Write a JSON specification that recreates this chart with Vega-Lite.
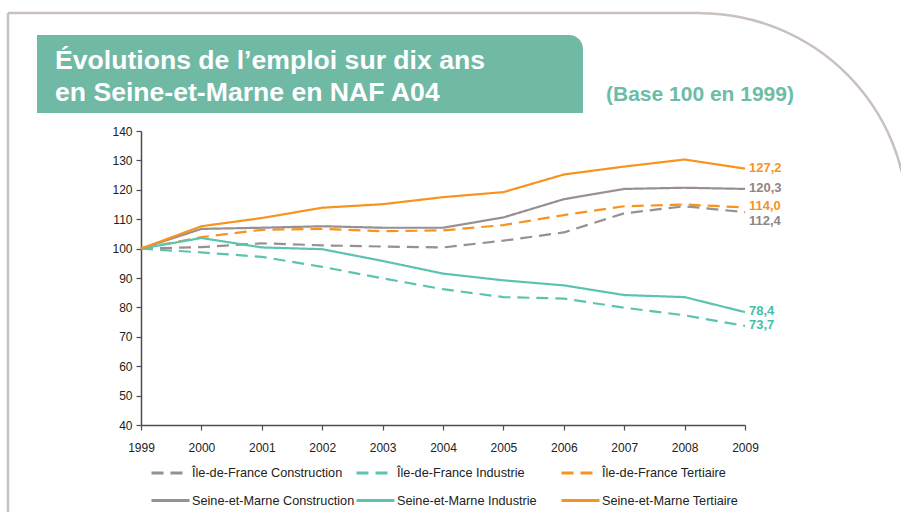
{
  "$schema": "https://vega.github.io/schema/vega-lite/v6.json",
  "autosize": "none",
  "width": 604,
  "height": 294,
  "padding": {"left": 141, "top": 131, "right": 156, "bottom": 87},
  "background": "white",
  "config": {
    "view": {"stroke": null},
    "font": "Liberation Sans",
    "locale": {"number": {"decimal": ",", "thousands": " ", "grouping": [3], "currency": ["", " €"]}},
    "legend": {
      "orient": "none", "legendX": 9, "legendY": 321, "direction": "horizontal",
      "columns": 3, "gridAlign": "all", "columnPadding": -9, "rowPadding": -26,
      "symbolType": "stroke", "symbolSize": 1444, "symbolStrokeWidth": 3,
      "labelFont": "Liberation Sans", "labelFontSize": 12.7, "labelColor": "#222222", "labelOffset": 1, "labelLimit": 300
    }
  },
  "resolve": {"axis": {"x": "independent", "y": "independent"}},
  "datasets": {
    "emploi": [
      {"serie": "Île-de-France Construction", "annee": 1999, "valeur": 100},
      {"serie": "Île-de-France Construction", "annee": 2000, "valeur": 100.5},
      {"serie": "Île-de-France Construction", "annee": 2001, "valeur": 101.8},
      {"serie": "Île-de-France Construction", "annee": 2002, "valeur": 101.1},
      {"serie": "Île-de-France Construction", "annee": 2003, "valeur": 100.7},
      {"serie": "Île-de-France Construction", "annee": 2004, "valeur": 100.4},
      {"serie": "Île-de-France Construction", "annee": 2005, "valeur": 102.7},
      {"serie": "Île-de-France Construction", "annee": 2006, "valeur": 105.5},
      {"serie": "Île-de-France Construction", "annee": 2007, "valeur": 112.0},
      {"serie": "Île-de-France Construction", "annee": 2008, "valeur": 114.4},
      {"serie": "Île-de-France Construction", "annee": 2009, "valeur": 112.4},
      {"serie": "Île-de-France Industrie", "annee": 1999, "valeur": 100},
      {"serie": "Île-de-France Industrie", "annee": 2000, "valeur": 98.7},
      {"serie": "Île-de-France Industrie", "annee": 2001, "valeur": 97.2},
      {"serie": "Île-de-France Industrie", "annee": 2002, "valeur": 93.8},
      {"serie": "Île-de-France Industrie", "annee": 2003, "valeur": 89.9},
      {"serie": "Île-de-France Industrie", "annee": 2004, "valeur": 86.2},
      {"serie": "Île-de-France Industrie", "annee": 2005, "valeur": 83.5},
      {"serie": "Île-de-France Industrie", "annee": 2006, "valeur": 83.0},
      {"serie": "Île-de-France Industrie", "annee": 2007, "valeur": 79.9},
      {"serie": "Île-de-France Industrie", "annee": 2008, "valeur": 77.3},
      {"serie": "Île-de-France Industrie", "annee": 2009, "valeur": 73.7},
      {"serie": "Île-de-France Tertiaire", "annee": 1999, "valeur": 100},
      {"serie": "Île-de-France Tertiaire", "annee": 2000, "valeur": 103.9},
      {"serie": "Île-de-France Tertiaire", "annee": 2001, "valeur": 106.4},
      {"serie": "Île-de-France Tertiaire", "annee": 2002, "valeur": 106.7},
      {"serie": "Île-de-France Tertiaire", "annee": 2003, "valeur": 105.9},
      {"serie": "Île-de-France Tertiaire", "annee": 2004, "valeur": 106.2},
      {"serie": "Île-de-France Tertiaire", "annee": 2005, "valeur": 108.0},
      {"serie": "Île-de-France Tertiaire", "annee": 2006, "valeur": 111.4},
      {"serie": "Île-de-France Tertiaire", "annee": 2007, "valeur": 114.4},
      {"serie": "Île-de-France Tertiaire", "annee": 2008, "valeur": 115.0},
      {"serie": "Île-de-France Tertiaire", "annee": 2009, "valeur": 114.0},
      {"serie": "Seine-et-Marne Construction", "annee": 1999, "valeur": 100},
      {"serie": "Seine-et-Marne Construction", "annee": 2000, "valeur": 106.7},
      {"serie": "Seine-et-Marne Construction", "annee": 2001, "valeur": 107.1},
      {"serie": "Seine-et-Marne Construction", "annee": 2002, "valeur": 107.6},
      {"serie": "Seine-et-Marne Construction", "annee": 2003, "valeur": 107.1},
      {"serie": "Seine-et-Marne Construction", "annee": 2004, "valeur": 107.1},
      {"serie": "Seine-et-Marne Construction", "annee": 2005, "valeur": 110.6},
      {"serie": "Seine-et-Marne Construction", "annee": 2006, "valeur": 116.8},
      {"serie": "Seine-et-Marne Construction", "annee": 2007, "valeur": 120.3},
      {"serie": "Seine-et-Marne Construction", "annee": 2008, "valeur": 120.7},
      {"serie": "Seine-et-Marne Construction", "annee": 2009, "valeur": 120.3},
      {"serie": "Seine-et-Marne Industrie", "annee": 1999, "valeur": 100},
      {"serie": "Seine-et-Marne Industrie", "annee": 2000, "valeur": 103.6},
      {"serie": "Seine-et-Marne Industrie", "annee": 2001, "valeur": 100.4},
      {"serie": "Seine-et-Marne Industrie", "annee": 2002, "valeur": 99.8},
      {"serie": "Seine-et-Marne Industrie", "annee": 2003, "valeur": 95.8},
      {"serie": "Seine-et-Marne Industrie", "annee": 2004, "valeur": 91.5},
      {"serie": "Seine-et-Marne Industrie", "annee": 2005, "valeur": 89.2},
      {"serie": "Seine-et-Marne Industrie", "annee": 2006, "valeur": 87.5},
      {"serie": "Seine-et-Marne Industrie", "annee": 2007, "valeur": 84.2},
      {"serie": "Seine-et-Marne Industrie", "annee": 2008, "valeur": 83.5},
      {"serie": "Seine-et-Marne Industrie", "annee": 2009, "valeur": 78.4},
      {"serie": "Seine-et-Marne Tertiaire", "annee": 1999, "valeur": 100},
      {"serie": "Seine-et-Marne Tertiaire", "annee": 2000, "valeur": 107.6},
      {"serie": "Seine-et-Marne Tertiaire", "annee": 2001, "valeur": 110.4},
      {"serie": "Seine-et-Marne Tertiaire", "annee": 2002, "valeur": 113.9},
      {"serie": "Seine-et-Marne Tertiaire", "annee": 2003, "valeur": 115.1},
      {"serie": "Seine-et-Marne Tertiaire", "annee": 2004, "valeur": 117.5},
      {"serie": "Seine-et-Marne Tertiaire", "annee": 2005, "valeur": 119.2},
      {"serie": "Seine-et-Marne Tertiaire", "annee": 2006, "valeur": 125.2},
      {"serie": "Seine-et-Marne Tertiaire", "annee": 2007, "valeur": 127.9},
      {"serie": "Seine-et-Marne Tertiaire", "annee": 2008, "valeur": 130.3},
      {"serie": "Seine-et-Marne Tertiaire", "annee": 2009, "valeur": 127.2}
    ]
  },
  "layer": [
    {
      "data": {"name": "emploi"},
      "mark": {"type": "line", "strokeWidth": 2.2},
      "encoding": {
        "x": {
          "field": "annee", "type": "quantitative",
          "scale": {"domain": [1999, 2009], "nice": false, "zero": false},
          "axis": {
            "orient": "bottom", "title": null, "grid": false,
            "values": [1999, 2000, 2001, 2002, 2003, 2004, 2005, 2006, 2007, 2008, 2009],
            "format": "d", "labelPadding": 12, "labelFlush": false, "labelOverlap": false,
            "domainColor": "#4d4d4d", "domainWidth": 1.5, "tickColor": "#4d4d4d", "tickWidth": 1.2, "tickSize": 5,
            "labelColor": "#222222", "labelFont": "Liberation Sans", "labelFontSize": 12
          }
        },
        "y": {
          "field": "valeur", "type": "quantitative",
          "scale": {"domain": [40, 140], "nice": false, "zero": false},
          "axis": {
            "orient": "left", "title": null, "grid": false,
            "values": [40, 50, 60, 70, 80, 90, 100, 110, 120, 130, 140],
            "labelPadding": 4, "labelOverlap": false,
            "domainColor": "#4d4d4d", "domainWidth": 1.5, "tickColor": "#4d4d4d", "tickWidth": 1.2, "tickSize": 5,
            "labelColor": "#222222", "labelFont": "Liberation Sans", "labelFontSize": 12
          }
        },
        "color": {
          "field": "serie", "type": "nominal",
          "scale": {
            "domain": ["Île-de-France Construction", "Île-de-France Industrie", "Île-de-France Tertiaire", "Seine-et-Marne Construction", "Seine-et-Marne Industrie", "Seine-et-Marne Tertiaire"],
            "range": ["#9A8F8F", "#5BC3AF", "#F7931E", "#9A8F8F", "#5BC3AF", "#F7931E"]
          },
          "legend": {"title": null}
        },
        "strokeDash": {
          "field": "serie", "type": "nominal",
          "scale": {
            "domain": ["Île-de-France Construction", "Île-de-France Industrie", "Île-de-France Tertiaire", "Seine-et-Marne Construction", "Seine-et-Marne Industrie", "Seine-et-Marne Tertiaire"],
            "range": [[12, 7], [12, 7], [12, 7], [1, 0], [1, 0], [1, 0]]
          },
          "legend": {"title": null}
        }
      }
    },
    {
      "data": {"name": "emploi"},
      "transform": [{"filter": "datum.annee == 2009 && datum.serie != 'Île-de-France Construction'"}],
      "mark": {"type": "text", "align": "left", "baseline": "middle", "dx": 4, "dy": -1, "fontWeight": "bold", "fontSize": 13, "font": "Liberation Sans"},
      "encoding": {
        "x": {"field": "annee", "type": "quantitative", "axis": null},
        "y": {"field": "valeur", "type": "quantitative", "axis": null},
        "text": {"field": "valeur", "type": "quantitative", "format": ".1f"},
        "color": {
          "condition": [
            {"test": "indexof(datum.serie, 'Tertiaire') >= 0", "value": "#F7931E"},
            {"test": "indexof(datum.serie, 'Industrie') >= 0", "value": "#45BFA8"}
          ],
          "value": "#8F8585"
        }
      }
    },
    {
      "data": {"name": "emploi"},
      "transform": [{"filter": "datum.annee == 2009 && datum.serie == 'Île-de-France Construction'"}],
      "mark": {"type": "text", "align": "left", "baseline": "middle", "dx": 4, "dy": 9, "fontWeight": "bold", "fontSize": 13, "font": "Liberation Sans", "color": "#8F8585"},
      "encoding": {
        "x": {"field": "annee", "type": "quantitative", "axis": null},
        "y": {"field": "valeur", "type": "quantitative", "axis": null},
        "text": {"field": "valeur", "type": "quantitative", "format": ".1f"}
      }
    },
    {
      "data": {"values": [{}]},
      "mark": {"type": "rule", "color": "#c9c1bd", "strokeWidth": 2.5},
      "encoding": {
        "x": {"datum": 1996.798, "type": "quantitative", "axis": null},
        "y": {"datum": 180.14, "type": "quantitative", "axis": null},
        "y2": {"datum": 10.4}
      }
    },
    {
      "data": {"values": [{}]},
      "mark": {"type": "rule", "color": "#c9c1bd", "strokeWidth": 2.5},
      "encoding": {
        "x": {"datum": 1996.798, "type": "quantitative", "axis": null},
        "x2": {"datum": 2008.255},
        "y": {"datum": 180.14, "type": "quantitative", "axis": null}
      }
    },
    {
      "data": {"values": [{}]},
      "mark": {"type": "arc", "color": "#c9c1bd", "theta": 0, "theta2": 1.5708, "radius": 209, "radius2": 206.5},
      "encoding": {
        "x": {"datum": 2008.255, "type": "quantitative", "axis": null},
        "y": {"datum": 109.39, "type": "quantitative", "axis": null}
      }
    },
    {
      "data": {"values": [{}]},
      "mark": {"type": "rect", "color": "#70B9A5", "cornerRadiusTopRight": 14},
      "encoding": {
        "x": {"datum": 1997.278, "type": "quantitative", "axis": null},
        "x2": {"datum": 2006.318},
        "y": {"datum": 172.65, "type": "quantitative", "axis": null},
        "y2": {"datum": 146.12}
      }
    },
    {
      "data": {"values": [{}]},
      "mark": {"type": "text", "text": "Évolutions de l’emploi sur dix ans", "color": "white", "font": "Liberation Sans", "fontWeight": "bold", "fontSize": 26.6, "align": "left", "baseline": "alphabetic"},
      "encoding": {
        "x": {"datum": 1997.576, "type": "quantitative", "axis": null},
        "y": {"datum": 161.09, "type": "quantitative", "axis": null}
      }
    },
    {
      "data": {"values": [{}]},
      "mark": {"type": "text", "text": "en Seine-et-Marne en NAF A04", "color": "white", "font": "Liberation Sans", "fontWeight": "bold", "fontSize": 26.6, "align": "left", "baseline": "alphabetic"},
      "encoding": {
        "x": {"datum": 1997.576, "type": "quantitative", "axis": null},
        "y": {"datum": 150.2, "type": "quantitative", "axis": null}
      }
    },
    {
      "data": {"values": [{}]},
      "mark": {"type": "text", "text": "(Base 100 en 1999)", "color": "#6DBCA6", "font": "Liberation Sans", "fontWeight": "bold", "fontSize": 21, "align": "left", "baseline": "alphabetic"},
      "encoding": {
        "x": {"datum": 2006.699, "type": "quantitative", "axis": null},
        "y": {"datum": 150.2, "type": "quantitative", "axis": null}
      }
    }
  ]
}
